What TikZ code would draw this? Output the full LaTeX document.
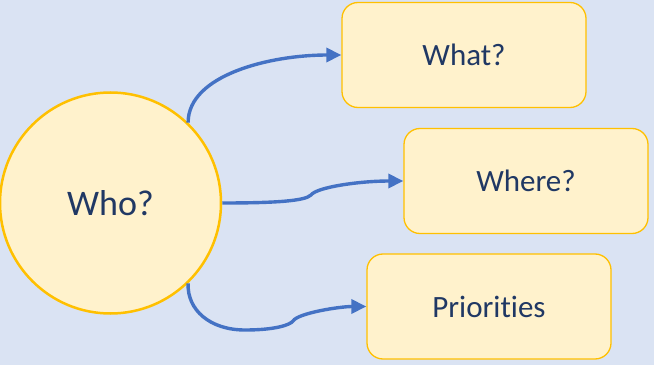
\documentclass[tikz,border=0pt]{standalone}
\usepackage{fontspec}
\setmainfont[RawFeature=-liga]{Carlito}
\usetikzlibrary{arrows.meta}
\definecolor{bgblue}{HTML}{DAE3F3}
\definecolor{paleyel}{HTML}{FFF2CC}
\definecolor{gold}{HTML}{FFC000}
\definecolor{inkblue}{HTML}{203864}
\definecolor{linkblue}{HTML}{4472C4}
\begin{document}
\begin{tikzpicture}[x=1pt,y=1pt,
    bubble/.style={circle,draw=gold,fill=paleyel,line width=2.5pt,minimum size=221pt,inner sep=0pt,text=inkblue,font=\fontsize{36}{40}\selectfont},
    card/.style={rectangle,rounded corners=16pt,draw=gold,fill=paleyel,line width=1.3pt,minimum width=244pt,minimum height=105pt,inner sep=0pt,text=inkblue,font=\fontsize{31}{36}\selectfont},
    link/.style={draw=linkblue,line width=3.4pt,-{Triangle[length=15pt,width=14pt]}}]
      \fill[bgblue] (0,0) rectangle (654,365);
      \useasboundingbox (0,0) rectangle (654,365);
      \node[bubble] (who) at (110.5,162) {Who?};
      \node[card] (what) at (464,310) {What?};
      \node[card] (where) at (526,184) {Where?};
      \node[card] (prio) at (489,58.5) {Priorities};
      \draw[link] (who.46) .. controls (188,290) and (270,310) .. (what.west);
      \draw[link] (who.east) .. controls (275,162) and (305,164) .. (311,170)
            .. controls (317,178) and (360,184) .. (where.west);
      \draw[link] (who.-46) .. controls (187,55) and (210,35) .. (245,35)
            .. controls (275,35) and (290,40) .. (293,44)
            .. controls (298,52) and (340,58.5) .. (prio.west);
\end{tikzpicture}
\end{document}
